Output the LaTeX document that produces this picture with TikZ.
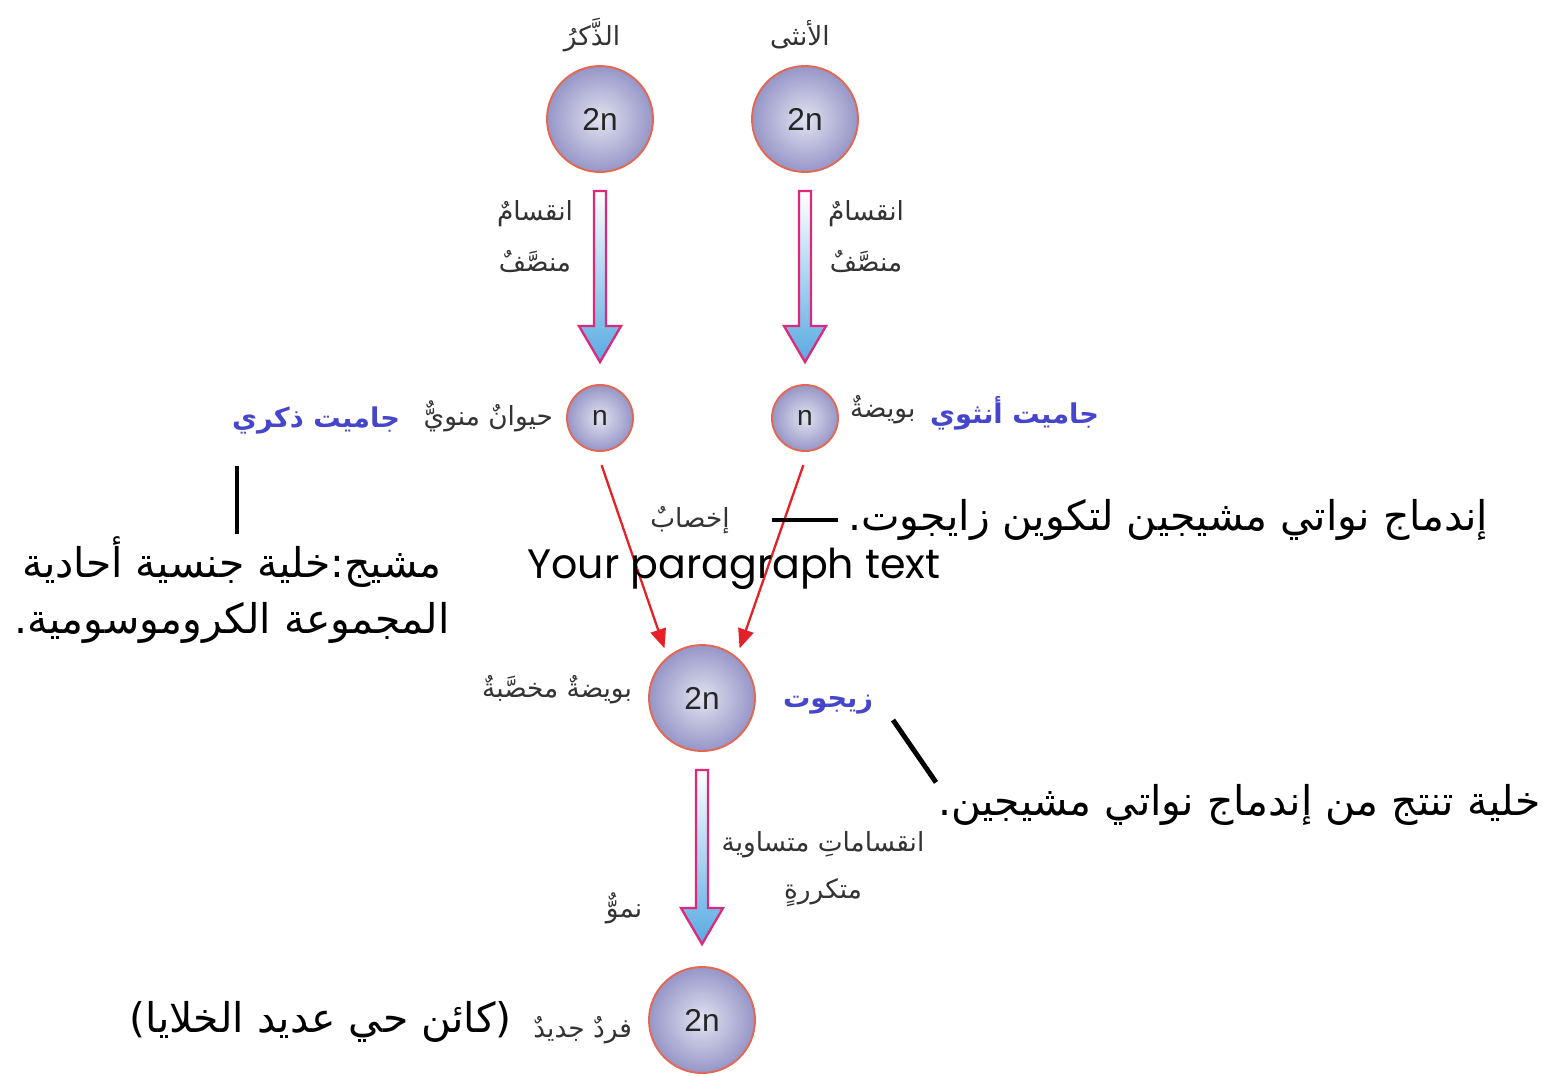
\documentclass[tikz,border=0pt]{standalone}
\usepackage{fontspec}
\setmainfont{Liberation Sans}
\newfontfamily\arabicfont[Script=Arabic]{DejaVu Sans}
\newfontfamily\parafont{Poppins}
\TeXXeTstate=1
\usetikzlibrary{arrows.meta,calc}

\definecolor{cellin}{RGB}{226,226,240}
\definecolor{cellout}{RGB}{150,150,200}
\definecolor{cellrim}{RGB}{226,104,84}
\definecolor{shaftpink}{RGB}{222,40,122}
\definecolor{headblue}{RGB}{88,170,226}
\definecolor{gamblue}{RGB}{70,70,205}
\definecolor{fuse}{RGB}{228,32,40}

% hollow division arrow between two cells
\newcommand{\fatarrow}[2]{%
  \path[fatarrow] ($(#1.south)+(-6,18)$) -- ($(#2.north)+(-6,-58)$)
    -- ($(#2.north)+(-21,-58)$) -- ($(#2.north)+(0,-22)$)
    -- ($(#2.north)+(21,-58)$) -- ($(#2.north)+(6,-58)$)
    -- ($(#1.south)+(6,18)$) -- cycle;}

\begin{document}
\begin{tikzpicture}[x=0.02cm, y=-0.02cm,
  cell/.style={circle, draw=cellrim, line width=1.1pt, inner color=cellin, outer color=cellout,
    minimum size=2.12cm, inner sep=0pt, font=\fontsize{18}{18}\selectfont, text=black!85},
  gamete/.style={cell, minimum size=1.32cm, font=\fontsize{16}{16}\selectfont},
  lbl/.style={font=\arabicfont\fontsize{15}{29}\selectfont, text=black!80, align=center, inner sep=1pt},
  gamlbl/.style={font=\arabicfont\bfseries\fontsize{15.5}{15.5}\selectfont, text=gamblue, inner sep=1pt},
  big/.style={font=\arabicfont\fontsize{23.3}{32}\selectfont, text=black, align=center, inner sep=1pt},
  fatarrow/.style={draw=shaftpink, line width=1.3pt, line join=miter, top color=white, bottom color=headblue},
  fusion/.style={-{Triangle[length=11pt,width=9pt]}, draw=fuse, line width=1.3pt},
  pointer/.style={draw=black, line width=2.8pt}
]
\fill[white] (0,0) rectangle (1550,1076);
\useasboundingbox (0,0) rectangle (1550,1076);

% parents
\node[cell] (male) at (600,119) {2n};
\node[cell] (female) at (805,119) {2n};
\node[lbl, font=\arabicfont\fontsize{15}{15}\selectfont] (maletl) at (592,35) {\beginR الذَّكرُ\endR};
\node[lbl, font=\arabicfont\fontsize{15}{15}\selectfont] (femaletl) at (800,35) {\beginR الأنثى\endR};

% gametes
\node[gamete] (mgam) at (600,418) {n};
\node[gamete] (fgam) at (805,418) {n};
\fatarrow{male}{mgam}
\fatarrow{female}{fgam}
\node[lbl] (mdiv) at (535,237) {\beginR انقسامٌ\endR\\\beginR منصَّفٌ\endR};
\node[lbl] (fdiv) at (866,237) {\beginR انقسامٌ\endR\\\beginR منصَّفٌ\endR};
\node[lbl, anchor=east] (sperm) at (555,416) {\beginR حيوانٌ منويٌّ\endR};
\node[gamlbl, anchor=east] (mgamlbl) at (402,420) {\beginR جاميت ذكري\endR};
\node[lbl, anchor=west] (egg) at (848,410) {\beginR بويضةٌ\endR};
\node[gamlbl, anchor=west] (fgamlbl) at (928,413) {\beginR جاميت أنثوي\endR};

% fertilisation
\node[cell] (zyg) at (702,698) {2n};
\draw[fusion, shorten <=8pt, shorten >=5pt] (mgam.-95) -- (zyg.130);
\draw[fusion, shorten <=8pt, shorten >=5pt] (fgam.-85) -- (zyg.50);
\node[lbl] (fert) at (690,520) {\beginR إخصابٌ\endR};
\node[lbl, anchor=east] (fegg) at (634,690) {\beginR بويضةٌ مخصَّبةٌ\endR};
\node[gamlbl, anchor=west] (zygname) at (781,705) {\beginR زيجوت\endR};

% growth
\node[cell] (adult) at (702,1020) {2n};
\fatarrow{zyg}{adult}
\node[lbl, font=\arabicfont\fontsize{15}{27}\selectfont] (mitosis) at (823,869) {\beginR انقساماتِ متساوية\endR\\\beginR متكررةٍ\endR};
\node[lbl] (growth) at (624,908) {\beginR نموٌّ\endR};
\node[lbl, anchor=east] (newind) at (634,1030) {\beginR فردٌ جديدٌ\endR};

% notes
\node[big] (defgam) at (232,590) {\beginR مشيج:خلية جنسية أحادية\endR\\\beginR المجموعة الكروموسومية.\endR};
\node[big, anchor=west] (fusetxt) at (846,520) {\beginR إندماج نواتي مشيجين لتكوين زايجوت.\endR};
\node[big, font=\parafont\fontsize{23.4}{30}\selectfont] (para) at (734,569) {Your paragraph text};
\node[big, anchor=west] (zygdef) at (936,805) {\beginR خلية تنتج من إندماج نواتي مشيجين.\endR};
\node[big, anchor=east] (organism) at (514,1022) {\beginR (كائن حي عديد الخلايا)\endR};

\coordinate (gamtip) at (237,466);
\coordinate (zygtip) at (893,720);
\draw[pointer] (gamtip) -- (gamtip |- defgam.north);
\draw[pointer, shorten <=4.5pt, shorten >=23pt] (fusetxt.west) -- (fert.east);
\draw[pointer] (zygtip) -- (zygdef.north west);
\end{tikzpicture}
\end{document}
